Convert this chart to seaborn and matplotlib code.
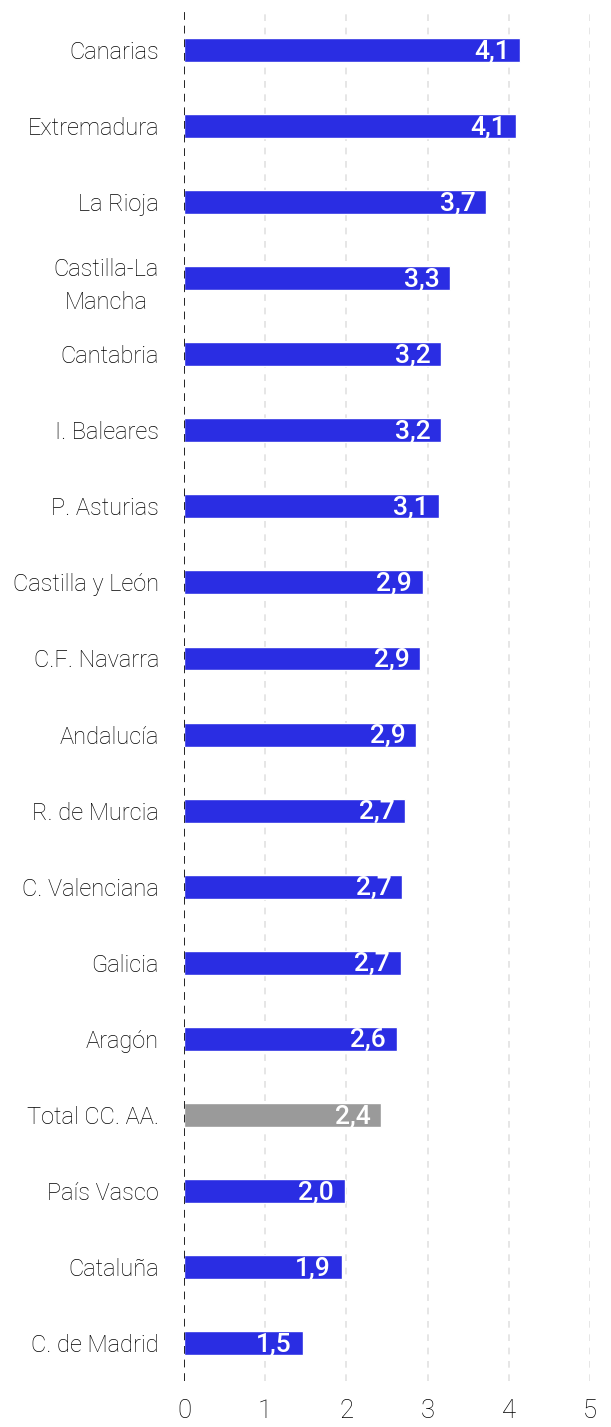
import pandas as pd
import numpy as np
import matplotlib.pyplot as plt
import seaborn as sns

regiones = ['Canarias', 'Extremadura', 'La Rioja', 'Castilla-La\nMancha', 'Cantabria',
            'I. Baleares', 'P. Asturias', 'Castilla y León', 'C.F. Navarra', 'Andalucía',
            'R. de Murcia', 'C. Valenciana', 'Galicia', 'Aragón', 'Total CC. AA.',
            'País Vasco', 'Cataluña', 'C. de Madrid']
valores = [4.14, 4.09, 3.72, 3.28, 3.17, 3.17, 3.14, 2.94, 2.91, 2.86,
           2.72, 2.69, 2.67, 2.62, 2.43, 1.98, 1.94, 1.46]
ticks_x = [0, 1, 2, 3, 4, 5]

df = pd.DataFrame({'region': regiones, 'valor': valores})
df['tipo'] = np.where(df['region'] == 'Total CC. AA.', 'total', 'ccaa')
colores = {'ccaa': '#2a2de3', 'total': '#9a9a9a'}

sns.set_style('white')
plt.rcParams['font.family'] = ['Roboto', 'DejaVu Sans']

fig = plt.figure(figsize=(6.11, 14.27), dpi=100)
ax = fig.add_axes([0.3011, 0.0322, 0.6645, 0.9594])

sns.barplot(data=df, y='region', x='valor', hue='tipo', palette=colores,
            orient='h', width=0.315, legend=False, dodge=False, ax=ax, saturation=1)

# etiquetas dentro de la barra
for i, v in enumerate(df['valor']):
    ax.text(v - 0.13, i + 0.02, f'{v:.1f}'.replace('.', ','), color='white', ha='right',
            va='center', fontsize=19, fontweight='medium')

ax.set_xlim(0, 5)
ax.set_ylim(len(regiones) - 0.5, -0.5)
ax.set_xticks(ticks_x)
ax.set_xticklabels([str(t) for t in ticks_x], fontsize=18.5, fontweight='light', color='#000000')
for t in ax.get_yticklabels():
    t.set_fontsize(17)
    t.set_fontweight('light')
    t.set_color('#000000')
    t.set_multialignment('center')
    t.set_linespacing(1.6)
    t.set_y(t.get_position()[1])
ax.tick_params(axis='x', length=0, pad=13)
ax.tick_params(axis='y', length=0, pad=18)
ax.set_xlabel('')
ax.set_ylabel('')
for s in ax.spines.values():
    s.set_visible(False)

for t in ticks_x[1:]:
    ax.axvline(t, color='#e2e2e2', linestyle=(0, (4, 4)), linewidth=1.2, zorder=0)
ax.axvline(0, color='#222222', linestyle=(0, (4, 3)), linewidth=1.4, zorder=3)

fig.savefig('out.png', dpi=100)
